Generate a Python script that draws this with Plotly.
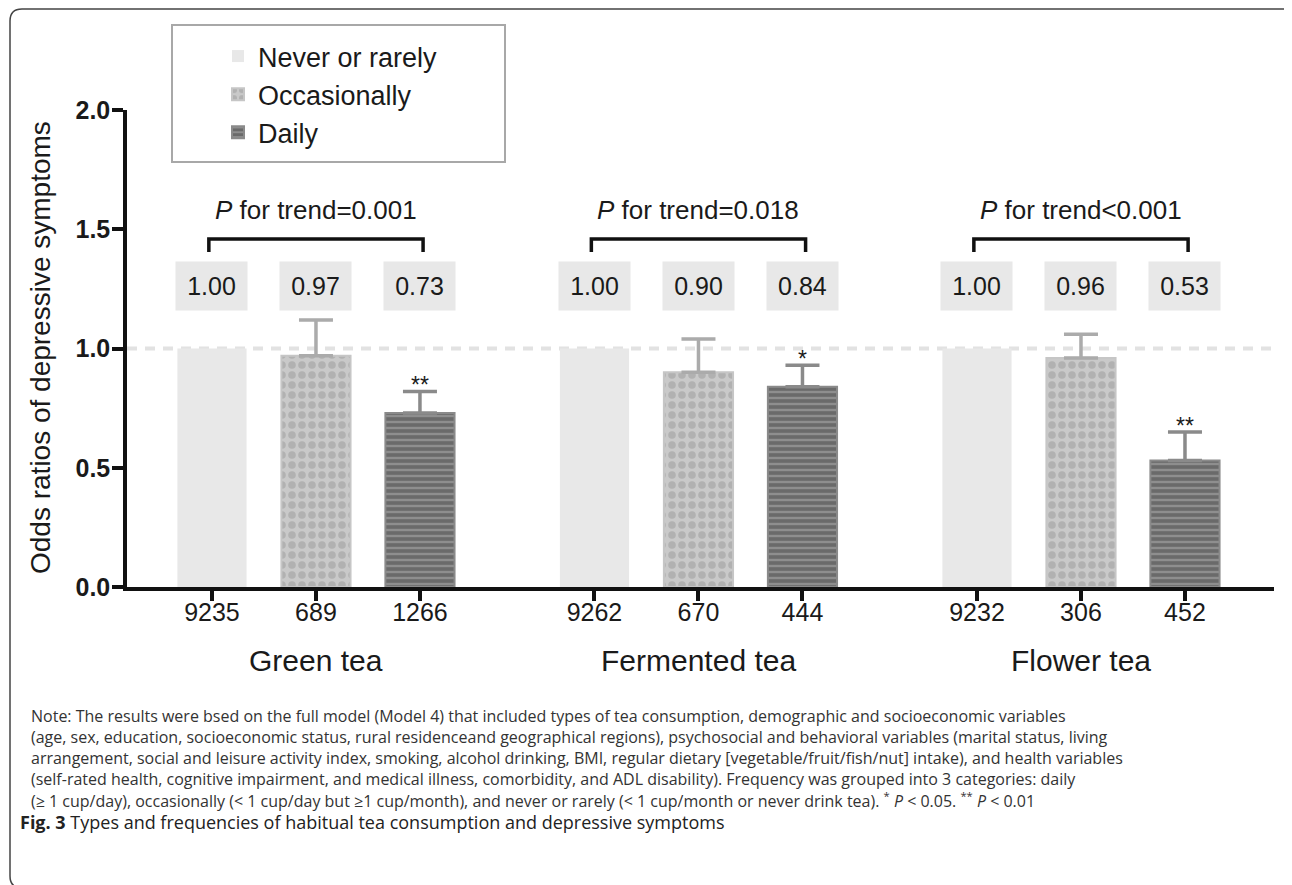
import plotly.graph_objects as go

# ---------------- data ----------------
groups = ["Green tea", "Fermented tea", "Flower tea"]
freq_names = ["Never or rarely", "Occasionally", "Daily"]
n_labels = [["9235", "689", "1266"], ["9262", "670", "444"], ["9232", "306", "452"]]
or_never = [1.00, 1.00, 1.00]
or_occ = [0.97, 0.90, 0.96]
or_daily = [0.73, 0.84, 0.53]
upper_occ = [1.12, 1.04, 1.06]
upper_daily = [0.82, 0.93, 0.65]
or_labels = [["1.00", "0.97", "0.73"], ["1.00", "0.90", "0.84"], ["1.00", "0.96", "0.53"]]
p_trend = ["<i>P</i> for trend=0.001", "<i>P</i> for trend=0.018", "<i>P</i> for trend&lt;0.001"]
sig_daily = ["**", "*", "**"]
ref_line = 1.0

note_lines = [
    "Note: The results were bsed on the full model (Model 4) that included types of tea consumption, demographic and socioeconomic variables",
    "(age, sex, education, socioeconomic status, rural residenceand geographical regions), psychosocial and behavioral variables (marital status, living",
    "arrangement, social and leisure activity index, smoking, alcohol drinking, BMI, regular dietary [vegetable/fruit/fish/nut] intake), and health variables",
    "(self-rated health, cognitive impairment, and medical illness, comorbidity, and ADL disability). Frequency was grouped into 3 categories: daily",
    "(≥ 1 cup/day), occasionally (&lt; 1 cup/day but ≥1 cup/month), and never or rarely (&lt; 1 cup/month or never drink tea). <sup>*</sup> <i>P</i> &lt; 0.05. <sup>**</sup> <i>P</i> &lt; 0.01",
]
caption = "<b>Fig. 3</b> Types and frequencies of habitual tea consumption and depressive symptoms"

# ---------------- layout helpers (targets in page pixels; page has 8px body margin) ----------------
OFF = 8
W, H = 1292 - OFF, 885 - OFF
PL, PR, PT, PB = 127, 1274, 110, 587          # plot area in page pixels
GROUP_GAP = 3.678
BAR_W = 0.665
XR = [-0.817, 2 * GROUP_GAP + 2 + 0.856]


def px_x(p):
    return (p - PL) / (PR - PL)


def px_y(p):
    return (PB - p) / (PB - PT)


def pos(g, i):
    return g * GROUP_GAP + i


FONT = "Liberation Sans, Arial, sans-serif"
NOTE_FONT = "Open Sans, sans-serif"
TXT = "#1a1a1a"

fig = go.Figure()

x_never = [pos(g, 0) for g in range(3)]
x_occ = [pos(g, 1) for g in range(3)]
x_daily = [pos(g, 2) for g in range(3)]

fig.add_trace(go.Bar(
    x=x_never, y=or_never, name=freq_names[0], width=BAR_W,
    marker=dict(color="#e8e8e8", line=dict(width=0)),
))
fig.add_trace(go.Bar(
    x=x_occ, y=or_occ, name=freq_names[1], width=BAR_W,
    marker=dict(color="#c9c9c9", line=dict(color="#c6c6c6", width=2),
                pattern=dict(shape=".", fgcolor="#b1b1b1", bgcolor="#c9c9c9",
                             size=10, solidity=0.45, fillmode="replace")),
    error_y=dict(type="data", symmetric=False,
                 array=[u - v for u, v in zip(upper_occ, or_occ)],
                 arrayminus=[0, 0, 0], color="#ababab", thickness=3.5, width=17),
))
fig.add_trace(go.Bar(
    x=x_daily, y=or_daily, name=freq_names[2], width=BAR_W,
    marker=dict(color="#8c8c8c", line=dict(color="#8a8a8a", width=2),
                pattern=dict(shape="-", fgcolor="#6a6a6a", bgcolor="#8e8e8e",
                             size=6, solidity=0.6, fillmode="replace")),
    error_y=dict(type="data", symmetric=False,
                 array=[u - v for u, v in zip(upper_daily, or_daily)],
                 arrayminus=[0, 0, 0], color="#8a8a8a", thickness=3.5, width=17),
))

shapes = []
annotations = []

# reference dashed line
shapes.append(dict(type="line", xref="paper", yref="y", x0=0, x1=px_x(1272),
                   y0=ref_line, y1=ref_line, layer="below",
                   line=dict(color="#e2e2e2", width=4, dash="10px,8px")))

# value boxes, brackets, p-trend text, group labels
for g in range(3):
    for i in range(3):
        annotations.append(dict(
            x=pos(g, i), y=1.262, xref="x", yref="y", text=or_labels[g][i],
            showarrow=False, bgcolor="#e8e8e8", width=69, height=46,
            xanchor="center", yanchor="middle",
            font=dict(family=FONT, size=25, color=TXT)))
    xa, xb = pos(g, 0) - 0.03, pos(g, 2) + 0.03
    shapes.append(dict(type="path", xref="x", yref="y",
                       path=f"M {xa},1.405 L {xa},1.459 L {xb},1.459 L {xb},1.405",
                       line=dict(color="#111111", width=3.5)))
    annotations.append(dict(x=pos(g, 1), y=1.581, xref="x", yref="y", text=p_trend[g],
                            xanchor="center", yanchor="middle",
                            showarrow=False, font=dict(family=FONT, size=26, color=TXT)))
    annotations.append(dict(x=pos(g, 1), y=px_y(660), xref="x", yref="paper", text=groups[g],
                            xanchor="center", yanchor="middle",
                            showarrow=False, font=dict(family=FONT, size=30, color=TXT)))
    annotations.append(dict(x=pos(g, 2), y=upper_daily[g], xref="x", yref="y", yshift=6,
                            text=sig_daily[g], showarrow=False, xanchor="center", yanchor="middle",
                            font=dict(family=FONT, size=23, color=TXT)))

# y-axis title
annotations.append(dict(x=px_x(40), y=px_y(348), xref="paper", yref="paper",
                        text="Odds ratios of depressive symptoms", textangle=-90,
                        xanchor="center", yanchor="middle",
                        showarrow=False, font=dict(family=FONT, size=28, color=TXT)))

# note lines
for k, line in enumerate(note_lines):
    annotations.append(dict(x=px_x(29), y=px_y(716 + 21 * k), xref="paper", yref="paper",
                            xanchor="left", yanchor="middle", text=line, showarrow=False,
                            font=dict(family=NOTE_FONT, size=16, color="#333333")))
annotations.append(dict(x=px_x(18), y=px_y(822), xref="paper", yref="paper",
                        xanchor="left", yanchor="middle", text=caption, showarrow=False,
                        font=dict(family=NOTE_FONT, size=18, color="#222222")))

# legend box
shapes.append(dict(type="rect", xref="paper", yref="paper",
                   x0=px_x(172), x1=px_x(505), y0=px_y(162), y1=px_y(25),
                   line=dict(color="#a8a8a8", width=2), fillcolor="rgba(0,0,0,0)"))

# outer rounded frame
x0, x1 = px_x(10), px_x(1302)
y0, y1 = px_y(9), px_y(888)
r = 12
rx, ry = r / (PR - PL), r / (PB - PT)
frame = (f"M {x0 + rx},{y0} L {x1 - rx},{y0} Q {x1},{y0} {x1},{y0 - ry} "
         f"L {x1},{y1 + ry} Q {x1},{y1} {x1 - rx},{y1} L {x0 + rx},{y1} "
         f"Q {x0},{y1} {x0},{y1 + ry} L {x0},{y0 - ry} Q {x0},{y0} {x0 + rx},{y0} Z")
shapes.append(dict(type="path", xref="paper", yref="paper", path=frame,
                   line=dict(color="#444444", width=1.5)))

tickvals = [pos(g, i) for g in range(3) for i in range(3)]
ticktext = [n_labels[g][i] for g in range(3) for i in range(3)]

fig.update_layout(
    width=W, height=H,
    margin=dict(l=PL - OFF, r=(W + OFF) - PR, t=PT - OFF, b=(H + OFF) - PB),
    paper_bgcolor="white", plot_bgcolor="white",
    barmode="overlay",
    shapes=shapes, annotations=annotations,
    showlegend=True,
    legend=dict(x=px_x(218), y=px_y(32), xanchor="left", yanchor="top",
                bgcolor="rgba(0,0,0,0)", borderwidth=0,
                font=dict(family=FONT, size=27, color=TXT), tracegroupgap=0),
    xaxis=dict(range=XR, tickvals=tickvals, ticktext=ticktext,
               showline=True, linecolor="#111111", linewidth=3.5,
               ticks="outside", ticklen=10, tickwidth=3.5, tickcolor="#111111",
               showgrid=False, zeroline=False, ticklabelstandoff=-10,
               tickfont=dict(family=FONT, size=25, color=TXT)),
    yaxis=dict(range=[0, 2], tickvals=[0, 0.5, 1.0, 1.5, 2.0], tickformat=".1f",
               showline=True, linecolor="#111111", linewidth=3.5,
               ticks="outside", ticklen=11, tickwidth=3.5, tickcolor="#111111",
               showgrid=False, zeroline=False, ticklabelstandoff=-3,
               tickfont=dict(family=FONT, size=25, color=TXT, weight="bold")),
)

fig.write_html("out.html")
